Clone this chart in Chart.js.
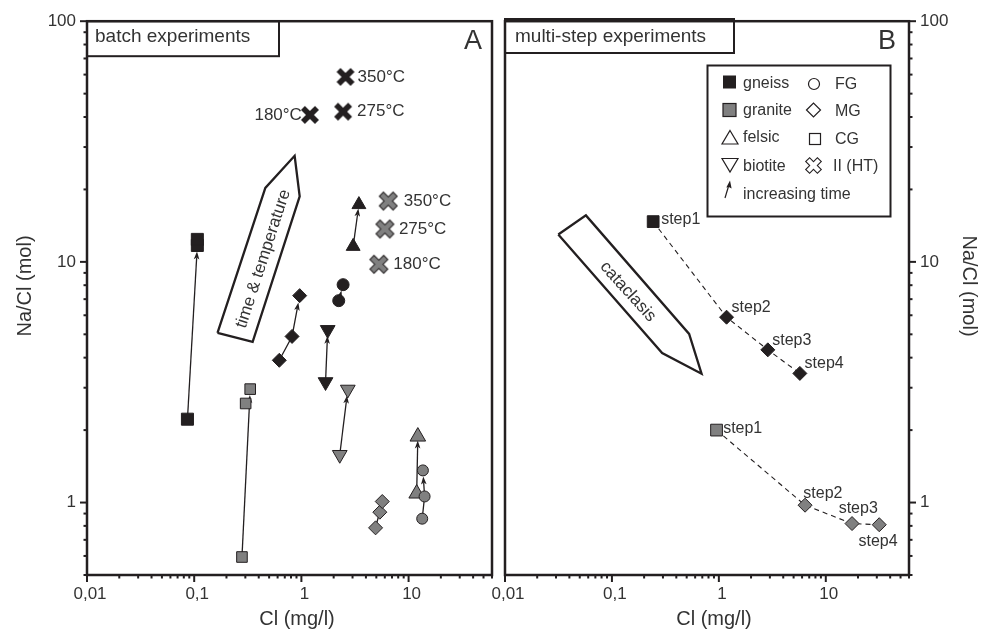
<!DOCTYPE html>
<html><head><meta charset="utf-8"><title>Na/Cl vs Cl</title>
<script src="https://cdn.jsdelivr.net/npm/chart.js@4.4.1/dist/chart.umd.min.js"></script>
<style>
html,body{margin:0;padding:0;background:#fff}
#wrap{position:relative;width:981px;height:630px;overflow:hidden;background:#fff}
canvas{position:absolute;top:0}
#cA{left:0}
#cB{left:470px}
</style></head>
<body><div id="wrap"><canvas id="cA" width="520" height="630"></canvas><canvas id="cB" width="511" height="630"></canvas></div>
<script>
// ---------------- DATA ----------------
// axis ticks
const xMajorTicks = [0.01, 0.1, 1, 10];
const xTickLabels = ['0,01', '0,1', '1', '10'];
const xMinorTicks = [0.02,0.03,0.04,0.05,0.06,0.07,0.08,0.09,0.2,0.3,0.4,0.5,0.6,0.7,0.8,0.9,2,3,4,5,6,7,8,9,20,30,40,50,60];
const yMajorTicks = [1, 10, 100];
const yTickLabels = ['1', '10', '100'];
const yMinorTicks = [0.5,0.6,0.7,0.8,0.9,2,3,4,5,6,7,8,9,20,30,40,50,60,70,80,90];

// Panel A: batch experiments, points as [Cl (mg/l), Na/Cl (mol)] in time order
const gneissCG_A   = [[0.0865, 2.22], [0.107, 11.7], [0.107, 12.4]];
const gneissMG_A   = [[0.622, 3.90], [0.818, 4.90], [0.964, 7.24]];
const gneissFG_A   = [[2.23, 6.90], [2.45, 8.04]];
const gneissFel_A  = [[3.04, 11.6], [3.44, 17.3]];
const gneissBio_A  = [[1.68, 3.17], [1.76, 5.22]];
const gneissHT_A   = [[1.20, 40.8], [2.45, 42.1], [2.58, 58.7]];
const graniteCG_A  = [[0.279, 0.594], [0.302, 2.58], [0.333, 2.96]];
const graniteMG_A  = [[4.92, 0.785], [5.39, 0.912], [5.68, 1.01]];
const graniteFG_A  = [[13.4, 0.857], [14.1, 1.06], [13.6, 1.36]];
const graniteFel_A = [[11.9, 1.09], [12.2, 1.88]];
const graniteBio_A = [[2.28, 1.58], [2.71, 2.95]];
const graniteHT_A  = [[5.28, 9.77], [6.01, 13.7], [6.46, 17.9]];
const htTempLabels = ['180°C', '275°C', '350°C'];

// Panel B: multi-step experiments
const stepLabels     = ['step1', 'step2', 'step3', 'step4'];
const gneissSteps_B  = [[0.243, 14.7], [1.18, 5.89], [2.87, 4.31], [5.72, 3.44]];
const graniteSteps_B = [[0.951, 2.00], [6.40, 0.975], [17.6, 0.818], [31.6, 0.809]];

// schematic arrow shapes (data coordinates)
const timeTempShape   = [[0.165, 5.07], [0.461, 20.3], [0.865, 27.6], [0.964, 18.7], [0.351, 4.65]];
const timeTempText    = {label: 'time & temperature', at: [0.441, 10.3]};
const cataclasisShape = [[0.0315, 13.0], [0.0571, 15.6], [0.527, 5.02], [0.689, 3.43], [0.295, 4.18]];
const cataclasisText  = {label: 'cataclasis', at: [0.141, 7.52]};

// ---------------- STYLE ----------------
const FONT = "'Liberation Sans', Arial, Helvetica, sans-serif";
const INK = '#231f20';
const TXT = '#333333';
const GRAY = '#808080';
Chart.defaults.font.family = FONT;

function makeX(w, arm, fill, stroke, lw) {
  const S = Math.ceil(w + 4 * (lw || 0) + 4);
  const c = document.createElement('canvas'); c.width = S; c.height = S;
  const g = c.getContext('2d'); g.translate(S / 2, S / 2);
  const L = w / Math.SQRT2 * 2 - arm;
  const each = fn => [45, -45].forEach(a => { g.save(); g.rotate(a * Math.PI / 180); fn(); g.restore(); });
  if (stroke) { g.strokeStyle = stroke; g.lineWidth = lw * 2; each(() => g.strokeRect(-L / 2, -arm / 2, L, arm)); }
  g.fillStyle = fill; each(() => g.fillRect(-L / 2, -arm / 2, L, arm));
  return c;
}
const xBlack = makeX(18, 5.6, INK, null, 0);
const xGray = makeX(16.5, 4.8, GRAY, INK, 1);
const xLegend = makeX(14, 4.4, '#fff', INK, 1.1);

const groupsA = [
  {data: gneissCG_A,   style: 'rect',     r: 8.5, fill: INK,  path: [0, 1], gap: 6},
  {data: gneissMG_A,   style: 'rectRot',  r: 7,   fill: INK,  path: [0, 1, 2], gap: 7},
  {data: gneissFG_A,   style: 'circle',   r: 6,   fill: INK,  path: [0, 1], gap: 6},
  {data: gneissFel_A,  style: 'triangle', r: 8,   fill: INK,  path: [0, 1], gap: 4},
  {data: gneissBio_A,  style: 'triangle', r: 8.5, rot: 180, fill: INK, path: [0, 1], gap: 6},
  {data: gneissHT_A,   style: xBlack,     r: 9,   fill: INK,  path: null},
  {data: graniteCG_A,  style: 'rect',     r: 7.5, fill: GRAY, path: [0, 2], gap: 6},
  {data: graniteMG_A,  style: 'rectRot',  r: 7,   fill: GRAY, path: [0, 2], gap: 8},
  {data: graniteFG_A,  style: 'circle',   r: 5.5, fill: GRAY, path: [0, 1, 2], gap: 6},
  {data: graniteFel_A, style: 'triangle', r: 9,   fill: GRAY, path: [0, 1], gap: 4},
  {data: graniteBio_A, style: 'triangle', r: 8.5, rot: 180, fill: GRAY, path: [0, 1], gap: 6},
  {data: graniteHT_A,  style: xGray,      r: 9,   fill: GRAY, path: null}
];
// label offsets (px) for temperature labels: [dx, dy, align]
const gneissHTLabelPos  = [[-8, 0, 'right'], [14, 0, 'left'], [12, 0, 'left']];
const graniteHTLabelPos = [[14.5, 0.5, 'left'], [14, 0.5, 'left'], [15.5, 0, 'left']];
const gneissStepLabelPos  = [[8, 2.3], [5, -5.2], [4.4, -4.5], [4.7, -5.1]];
const graniteStepLabelPos = [[6.6, 3.2], [-1.7, -7.5], [-13.4, -10.8], [-20.7, 21.2]];

const toXY = arr => arr.map(([x, y]) => ({x, y}));

function txt(ctx, s, x, y, size, align, baseline, rot) {
  ctx.save();
  ctx.font = size + 'px ' + FONT; ctx.fillStyle = TXT;
  ctx.textAlign = align || 'left'; ctx.textBaseline = baseline || 'alphabetic';
  ctx.translate(x, y); if (rot) ctx.rotate(rot * Math.PI / 180);
  ctx.fillText(s, 0, 0);
  ctx.restore();
}

function drawFrameTicks(chart, side) {
  const ctx = chart.ctx, a = chart.chartArea, X = chart.scales.x, Y = chart.scales.y;
  ctx.save(); ctx.strokeStyle = INK; ctx.lineCap = 'butt';
  ctx.lineWidth = 2;
  const seg = (x1, y1, x2, y2) => { ctx.beginPath(); ctx.moveTo(x1, y1); ctx.lineTo(x2, y2); ctx.stroke(); };
  xMajorTicks.forEach(v => { const p = X.getPixelForValue(v); seg(p, a.bottom, p, a.bottom + 7); });
  xMinorTicks.forEach(v => { const p = X.getPixelForValue(v); seg(p, a.bottom, p, a.bottom + 3.5); });
  const e = side === 'left' ? a.left : a.right, s = side === 'left' ? -1 : 1;
  yMajorTicks.forEach(v => { const p = Y.getPixelForValue(v); seg(e, p, e + s * 7, p); });
  yMinorTicks.forEach(v => { const p = Y.getPixelForValue(v); seg(e, p, e + s * 3.5, p); });
  ctx.lineWidth = 2.5;
  ctx.strokeRect(a.left, a.top, a.right - a.left, a.bottom - a.top);
  ctx.restore();
}

function drawArrows(chart, groups) {
  const X = chart.scales.x, Y = chart.scales.y, ctx = chart.ctx;
  ctx.save(); ctx.strokeStyle = INK; ctx.fillStyle = INK; ctx.lineWidth = 1.3;
  groups.forEach(g => {
    if (!g.path) return;
    const p = g.path.map(i => [X.getPixelForValue(g.data[i][0]), Y.getPixelForValue(g.data[i][1])]);
    const n = p.length, [x1, y1] = p[n - 2], [x2, y2] = p[n - 1];
    const len = Math.hypot(x2 - x1, y2 - y1), ux = (x2 - x1) / len, uy = (y2 - y1) / len;
    const tip = [x2 - ux * g.gap, y2 - uy * g.gap];
    const AL = 8, AW = 2.8;
    const base = [tip[0] - ux * AL, tip[1] - uy * AL];
    const notch = [tip[0] - ux * (AL - 2), tip[1] - uy * (AL - 2)];
    ctx.beginPath(); ctx.moveTo(p[0][0], p[0][1]);
    for (let k = 1; k < n - 1; k++) ctx.lineTo(p[k][0], p[k][1]);
    ctx.lineTo(notch[0], notch[1]); ctx.stroke();
    ctx.beginPath(); ctx.moveTo(tip[0], tip[1]);
    ctx.lineTo(base[0] - uy * AW, base[1] + ux * AW);
    ctx.lineTo(notch[0], notch[1]);
    ctx.lineTo(base[0] + uy * AW, base[1] - ux * AW);
    ctx.closePath(); ctx.fill();
  });
  ctx.restore();
}

function xScale() {
  return {
    type: 'logarithmic', min: 0.01, max: 60, position: 'bottom',
    grid: {display: false, drawTicks: false}, border: {display: false},
    afterBuildTicks: s => { s.ticks = xMajorTicks.map(v => ({value: v})); },
    afterFit: s => { s.height = 55; },
    ticks: {autoSkip: false, maxRotation: 0, padding: 9, labelOffset: 3, color: TXT, font: {family: FONT, size: 17},
      callback: (v, i) => xTickLabels[i]}
  };
}
function yScale(pos, width) {
  return {
    type: 'logarithmic', min: 0.5, max: 100, position: pos,
    grid: {display: false, drawTicks: false}, border: {display: false},
    afterBuildTicks: s => { s.ticks = yMajorTicks.map(v => ({value: v})); },
    afterFit: s => { s.width = width; },
    ticks: {autoSkip: false, padding: 11, color: TXT, font: {family: FONT, size: 17},
      callback: (v, i) => yTickLabels[i]}
  };
}
const baseOpts = (pad, ypos, ywidth) => ({
  responsive: false, animation: false, devicePixelRatio: 1, events: [],
  layout: {padding: pad},
  plugins: {legend: {display: false}, tooltip: {enabled: false}},
  scales: {x: xScale(), y: yScale(ypos, ywidth)}
});

function shapeDataset(shape) {
  return {data: toXY(shape.concat([shape[0]])), showLine: true, fill: false, tension: 0,
    borderColor: INK, borderWidth: 2.3, pointRadius: 0, order: 10, clip: false};
}

// ---------------- PANEL A ----------------
const dsA = groupsA.map(g => ({
  data: toXY(g.data), showLine: false, pointStyle: g.style, pointRadius: g.r,
  pointRotation: g.rot || 0, pointBackgroundColor: g.fill,
  pointBorderColor: INK, pointBorderWidth: 1, order: 1
}));
dsA.push(shapeDataset(timeTempShape));

const decoA = {
  id: 'decoA',
  beforeDatasetsDraw(chart) { drawArrows(chart, groupsA); },
  afterDraw(chart) {
    const ctx = chart.ctx, a = chart.chartArea, X = chart.scales.x, Y = chart.scales.y;
    drawFrameTicks(chart, 'left');
    ctx.save(); ctx.strokeStyle = INK; ctx.lineWidth = 2;
    ctx.strokeRect(a.left, a.top, 192, 35); ctx.restore();
    txt(ctx, 'batch experiments', 95, 42, 19, 'left');
    txt(ctx, 'A', 473, 49, 27, 'center');
    gneissHT_A.forEach((d, i) => {
      const o = gneissHTLabelPos[i];
      txt(ctx, htTempLabels[i], X.getPixelForValue(d[0]) + o[0], Y.getPixelForValue(d[1]) + o[1], 17, o[2], 'middle');
    });
    graniteHT_A.forEach((d, i) => {
      const o = graniteHTLabelPos[i];
      txt(ctx, htTempLabels[i], X.getPixelForValue(d[0]) + o[0], Y.getPixelForValue(d[1]) + o[1], 17, o[2], 'middle');
    });
    txt(ctx, timeTempText.label, X.getPixelForValue(timeTempText.at[0]), Y.getPixelForValue(timeTempText.at[1]), 17, 'center', 'middle', -72);
    txt(ctx, 'Cl (mg/l)', 297, 625, 20, 'center');
    txt(ctx, 'Na/Cl (mol)', 31, 286, 20, 'center', 'alphabetic', -90);
  }
};
new Chart(document.getElementById('cA'), {
  type: 'scatter', data: {datasets: dsA},
  options: baseOpts({left: 0, right: 28, top: 19, bottom: 0}, 'left', 87), plugins: [decoA]
});

// ---------------- PANEL B ----------------
const OX = 470;
const stepStyles = ['rect', 'rectRot', 'rectRot', 'rectRot'];
const stepRadii = [8.3, 7, 7, 7];
const stepDs = (data, fill) => ({
  data: toXY(data), showLine: true, tension: 0, fill: false,
  borderColor: INK, borderWidth: 1.1, borderDash: [5, 4],
  pointStyle: stepStyles, pointRadius: stepRadii, pointBackgroundColor: fill,
  pointBorderColor: INK, pointBorderWidth: 1, order: 1
});
const dsB = [stepDs(gneissSteps_B, INK), stepDs(graniteSteps_B, GRAY), shapeDataset(cataclasisShape)];

function drawLegend(ctx) {
  ctx.save();
  ctx.strokeStyle = INK; ctx.lineWidth = 2;
  ctx.strokeRect(707.5, 65.5, 183, 151);
  ctx.lineWidth = 1.2;
  ctx.fillStyle = INK; ctx.fillRect(723, 75.5, 13, 13);
  ctx.fillStyle = GRAY; ctx.fillRect(723, 103.5, 13, 13); ctx.strokeRect(723, 103.5, 13, 13);
  ctx.beginPath(); ctx.moveTo(730, 130.5); ctx.lineTo(738, 144); ctx.lineTo(722, 144); ctx.closePath(); ctx.stroke();
  ctx.beginPath(); ctx.moveTo(722, 158.5); ctx.lineTo(738, 158.5); ctx.lineTo(730, 172); ctx.closePath(); ctx.stroke();
  ctx.beginPath(); ctx.moveTo(725, 198); ctx.lineTo(728.6, 186); ctx.stroke();
  ctx.fillStyle = INK; ctx.beginPath(); ctx.moveTo(730, 180.5); ctx.lineTo(731.6, 188.5); ctx.lineTo(728.8, 187); ctx.lineTo(726.3, 187.6); ctx.closePath(); ctx.fill();
  ctx.beginPath(); ctx.arc(814, 84, 5.5, 0, Math.PI * 2); ctx.stroke();
  ctx.beginPath(); ctx.moveTo(806.5, 110); ctx.lineTo(813.5, 103); ctx.lineTo(820.5, 110); ctx.lineTo(813.5, 117); ctx.closePath(); ctx.stroke();
  ctx.strokeRect(809.5, 133.5, 11, 11);
  ctx.drawImage(xLegend, 813.5 - xLegend.width / 2, 165.5 - xLegend.height / 2);
  ctx.restore();
  const L = [['gneiss', 743, 87.5], ['granite', 743, 115], ['felsic', 743, 142], ['biotite', 743, 170.5], ['increasing time', 743, 198.5],
             ['FG', 835, 88.5], ['MG', 835, 115.5], ['CG', 835, 143.5], ['II (HT)', 833, 171]];
  L.forEach(([s, x, y]) => txt(ctx, s, x, y, 16, 'left'));
}

const decoB = {
  id: 'decoB',
  afterDraw(chart) {
    const ctx = chart.ctx, X = chart.scales.x, Y = chart.scales.y;
    drawFrameTicks(chart, 'right');
    gneissSteps_B.forEach((d, i) => {
      const o = gneissStepLabelPos[i];
      txt(ctx, stepLabels[i], X.getPixelForValue(d[0]) + o[0], Y.getPixelForValue(d[1]) + o[1], 16, 'left');
    });
    graniteSteps_B.forEach((d, i) => {
      const o = graniteStepLabelPos[i];
      txt(ctx, stepLabels[i], X.getPixelForValue(d[0]) + o[0], Y.getPixelForValue(d[1]) + o[1], 16, 'left');
    });
    txt(ctx, cataclasisText.label, X.getPixelForValue(cataclasisText.at[0]), Y.getPixelForValue(cataclasisText.at[1]), 17, 'center', 'middle', 48);
    ctx.save(); ctx.translate(-OX, 0);
    ctx.strokeStyle = INK; ctx.lineWidth = 2; ctx.strokeRect(505, 19, 229, 34);
    txt(ctx, 'multi-step experiments', 515, 42, 19, 'left');
    txt(ctx, 'B', 887, 48.5, 27, 'center');
    drawLegend(ctx);
    txt(ctx, 'Cl (mg/l)', 714, 625, 20, 'center');
    txt(ctx, 'Na/Cl (mol)', 963, 286, 20, 'center', 'alphabetic', 90);
    ctx.restore();
  }
};
new Chart(document.getElementById('cB'), {
  type: 'scatter', data: {datasets: dsB},
  options: baseOpts({left: 35, right: 0, top: 19, bottom: 0}, 'right', 72), plugins: [decoB]
});
</script></body></html>
